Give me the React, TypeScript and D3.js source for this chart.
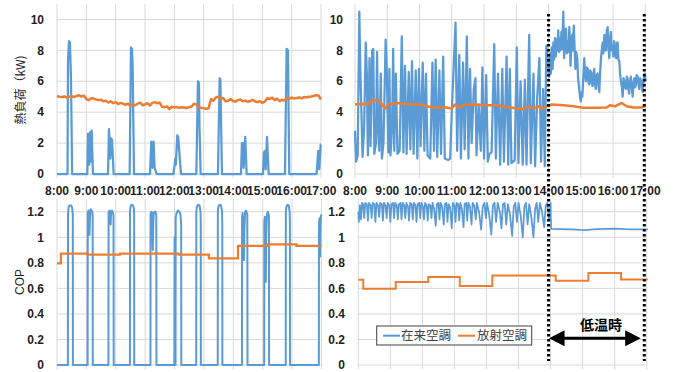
import React from "react";
import * as d3 from "d3";

const hourLabels = ["8:00","9:00","10:00","11:00","12:00","13:00","14:00","15:00","16:00","17:00"];
const loadTicks = [0, 2, 4, 6, 8, 10];
const copTicks = [0, 0.2, 0.4, 0.6, 0.8, 1, 1.2];
const copTickLabels = ["0", "0.2", "0.4", "0.6", "0.8", "1", "1.2"];
const seriesNames = ["在来空調", "放射空調"];

// minutes after 8:00, value
const loadConvLeft: [number, number][] = [
  [0,0],[21.5,0],[22.5,7.3],[24.5,8.6],[26.5,8.5],[28.5,6.3],[31,0],
  [62,0],[63.4,2.6],[66,0.6],[67.5,2.7],[68.8,0.8],[70.9,2.8],[73.6,0],
  [104.3,0],[106.3,2.9],[109,1.0],[111,2.3],[112.5,2.2],[115.9,0],
  [148.6,0],[151.3,8.2],[153.4,8.1],[154.7,7.0],[157.5,0],
  [190.2,0],[192.9,2.1],[194.9,0.4],[197.6,2.1],[199.7,0.4],[203.8,0],
  [238,0],[240.7,0.6],[242,1.0],[243,0.6],[246,2.5],[248,2.4],[250,1.5],[253.6,0],
  [285,0],[288.3,6.0],[290.4,5.9],[291.5,3],[293.8,0],
  [329.2,0],[332.7,6.2],[334.2,6.1],[337.4,0],
  [376.3,0],[378.3,2.0],[380.4,2.0],[381.7,0.4],[385.1,2.4],[387.9,0],
  [421.3,0],[423.3,1.4],[425.4,1.5],[426.8,0.3],[429.5,2.4],[432.9,0],
  [466.3,0],[469.7,8.1],[472.4,8.0],[475.1,0],
  [531,0],[534.4,1.5],[536.5,0.3],[539.3,1.9],[540,1.9],
];

// 5-minute samples from 8:00
const loadRadLeft = [
  5.05,5.0,4.98,5.02,4.95,5.0,5.03,4.98,5.05,5.1,5.0,5.08,4.85,4.78,4.9,4.88,4.82,4.78,4.8,4.7,
  4.75,4.62,4.7,4.58,4.65,4.52,4.6,4.55,4.48,4.55,4.42,4.5,4.45,4.55,4.62,4.45,4.5,4.58,4.42,4.6,
  4.65,4.58,4.62,4.35,4.32,4.38,4.2,4.35,4.3,4.33,4.28,4.32,4.3,4.27,4.33,4.35,4.55,4.5,4.3,4.28,
  4.25,4.22,4.25,4.85,4.75,4.95,5.0,4.85,4.92,4.7,4.75,4.85,4.72,4.68,4.78,4.82,4.7,4.75,4.68,4.72,
  4.8,4.7,4.65,4.72,4.6,4.68,4.9,4.85,4.95,4.78,4.88,4.72,4.8,4.75,4.9,4.85,4.95,4.88,4.92,4.95,
  4.9,4.98,4.95,5.0,5.02,5.05,5.1,5.08,4.82,
];

const loadConvRight: [number, number][] = [
  [0,2.8],[2,0.8],[5,1.2],[8,10.5],[10,6.6],[12,4.0],[14,1.1],[17,3.0],[20,8.5],[22,6.5],[24,1.2],[27,7.5],[29,1.8],
  [32,8.0],[34,8.1],[36,1.3],[39,2.0],[41,7.9],[43,3.0],[45,1.5],[48,6.5],[50,1.0],[53,2.0],[57,8.7],[59,6.9],
  [62,1.4],[64,6.8],[66,1.2],[69,3.0],[71,8.1],[73,1.5],[76,6.5],[79,1.3],[83,1.5],[87,8.9],[90,1.4],[93,7.0],
  [96,1.3],[100,6.6],[103,1.6],[106,7.3],[109,1.3],[113,6.7],[116,1.0],[119,6.8],[122,1.8],[126,7.2],[129,1.5],
  [132,6.5],[135,1.2],[140,1.0],[144,7.2],[147,1.5],[150,7.4],[153,1.1],[157,6.7],[160,1.3],[164,7.6],[167,1.0],
  [173,0.9],[177,1.0],[180,4.0],[187,9.8],[190,1.5],[194,7.7],[197,1.0],[201,7.2],[204,1.6],[208,8.9],[211,1.0],
  [214,6.8],[217,2.0],[221,5.5],[224,6.2],[226,1.2],[230,4.5],[234,1.5],[237,6.9],[240,1.0],[244,6.4],[247,0.8],
  [250,1.3],[254,1.4],[259,8.4],[262,1.0],[266,6.5],[270,0.6],[274,6.8],[277,0.8],[282,7.6],[285,0.6],[288,6.8],
  [291,0.7],[297,0.9],[301,8.2],[304,0.7],[308,6.0],[312,0.6],[316,6.1],[319,0.6],[324,9.0],[327,0.7],[332,6.5],
  [335,0.5],[339,5.0],[343,7.5],[346,0.8],[350,5.5],[353,0.5],[356,8.3],[358,7.5],[361,6.3],
  [363,7.8],[364.5,6.5],[366,8.2],[367.5,6.8],[369,8.5],[370.5,7.4],[372,8.8],[373.5,7.6],[375,8.7],[376.5,8.0],
  [378,9.3],[379.5,7.9],[381,8.8],[382.5,8.0],[384,9.2],[385.5,8.1],[387.5,10.5],[389,7.5],[390.5,8.9],[392.5,9.4],
  [394,7.8],[395.5,8.6],[397,7.9],[398.7,9.5],[400,8.2],[401,7.0],[402.5,8.6],[404,9.0],[405.5,8.0],[407,9.6],
  [408.5,8.1],[410,6.8],[411.5,7.9],[413.5,7.5],[415,6.2],[417,5.5],[418.5,5.0],[420,4.7],[421.5,5.3],[423,5.0],
  [424.5,6.2],[426.5,7.5],[428,6.3],[429.7,6.0],[431,6.9],[433,6.8],[434.5,5.9],[436,5.8],[437.5,6.7],[439,6.6],
  [440.5,5.9],[442,5.7],[443.5,6.5],[445,6.8],[446.5,5.8],[448,5.5],[449.5,6.4],[451.4,6.5],[453,5.7],[454.5,5.3],
  [456,6.6],[457.6,7.5],[459,8.0],[460.7,8.5],[462,7.8],[463.8,9.0],[465,8.0],[467,8.0],[468.5,9.3],[470,9.5],
  [471.5,8.2],[473,7.5],[474.5,8.6],[476,9.2],[477.5,8.0],[479,8.3],[480.5,7.6],[482,8.6],[483.5,7.8],[485.5,7.5],
  [487,8.5],[488.5,8.5],[490,7.4],[491.7,7.3],[493,6.5],[494.8,6.0],[496.5,5.6],[497.9,5.0],[499.5,6.2],[501,6.0],
  [502.5,5.6],[504,5.5],[505.5,6.3],[507,6.2],[508.5,5.5],[510,5.2],[511.5,6.0],[513,6.3],[514.5,5.7],[516.5,5.0],
  [518,5.9],[519.5,6.2],[521,5.6],[522.7,5.8],[524,6.4],[525.8,6.3],[527.5,5.8],[529,5.5],[530.5,6.2],[532,6.0],
  [533.5,5.7],[535,5.3],[537,6.1],[539,6.5],[541,6.0],
];

const loadRadRight: [number, number][] = [
  [0,4.5],[15.5,4.55],[24.8,4.5],[31,4.77],[40.3,4.77],[46.5,4.67],[52.7,4.38],[55.8,4.23],[62,4.5],[77.5,4.6],
  [102.3,4.5],[121,4.5],[133.3,4.38],[145.7,4.3],[170.5,4.3],[179.8,4.23],[186,4.5],[192.2,4.3],[201.5,4.45],
  [214,4.5],[245,4.45],[263.5,4.45],[288.3,4.3],[313,4.19],[322.4,4.38],[331.7,4.23],[341,4.38],[347.2,4.23],
  [356.5,4.38],[365.8,4.5],[387.5,4.45],[406,4.38],[424.7,4.28],[449.5,4.28],[468,4.3],[474.3,4.45],[483.6,4.38],
  [496,4.6],[505.3,4.38],[517.7,4.3],[533.2,4.3],[541,4.45],
];

const copConvLeft: [number, number][] = [
  [0,0],[22.3,0],[22.5,1.18],[23.5,1.23],[25.5,1.25],[29,1.25],[31,1.23],[32.3,1.18],[32.5,0],
  [62.5,0],[62.8,1.19],[64.3,1.21],[65.5,1.15],[66.3,1.02],[67,1.12],[68,1.2],[69,1.22],[70.5,1.21],[72,1.2],[72.8,1.17],[73,0],
  [105,0],[105.3,1.2],[107,1.21],[108.5,1.13],[109.5,1.1],[110.5,1.2],[112,1.21],[113.5,1.2],[115.4,1.17],[115.7,0],
  [148.9,0],[149.1,1.2],[150,1.24],[152,1.255],[155,1.25],[156.8,1.23],[157.5,1.18],[157.7,0],
  [190.8,0],[191,1.18],[192.5,1.2],[194,1.19],[195.6,0.9],[196.5,1.1],[197.5,1.19],[199,1.2],[201,1.2],[202.7,1.17],[203,0],
  [239.5,0],[240,1.0],[240.6,0],[242,0],[242.3,1.15],[244,1.19],[247,1.21],[250,1.2],[252,1.18],[253.5,1.1],[253.8,0],
  [284.2,0],[284.4,1.2],[285.5,1.24],[288,1.255],[291,1.25],[293,1.2],[293.5,1.1],[293.7,0],
  [328.2,0],[328.4,1.2],[329.5,1.24],[332,1.255],[335,1.25],[337,1.2],[337.5,1.1],[337.7,0],
  [377.6,0],[377.8,1.16],[379,1.19],[380.5,1.1],[381.7,0.82],[382.5,1.05],[384,1.2],[386,1.21],[388.5,1.18],[389,0],
  [423,0],[423.2,1.12],[424.5,1.16],[425.5,0.9],[426.3,0.65],[427,1.0],[428.5,1.18],[430.5,1.2],[432.7,1.17],[433,0],
  [467,0],[467.2,1.2],[468.3,1.24],[470.5,1.255],[473,1.25],[475,1.2],[475.5,1.1],[475.7,0],
  [534.6,0],[534.8,1.1],[536,1.15],[537,0.85],[538,1.1],[539,1.17],[540,1.18],
];

const copRadLeftTimes = [0, 8, 62, 128.6, 248, 310, 369.5, 429.7, 489, 540];
const copRadLeftValues = [0.795, 0.873, 0.865, 0.873, 0.865, 0.835, 0.933, 0.945, 0.933, 0.933];

const copConvRight: [number, number][] = [
  [0,1.2],[1,1.12],[3,1.25],[5,1.14],[7,1.27],[9,1.26],[11,1.15],[13,1.27],[16,1.26],[18,1.13],[20,1.27],[23,1.25],
  [25,1.15],[27,1.27],[30,1.26],[32,1.12],[34,1.27],[37,1.25],[39,1.16],[41,1.27],[44,1.26],[46,1.13],[48,1.27],
  [51,1.25],[53,1.15],[55,1.27],[58,1.25],[60,1.12],[62,1.26],[65,1.27],[67,1.15],[69,1.27],[72,1.25],[74,1.14],
  [76,1.26],[79,1.27],[81,1.14],[83,1.27],[86,1.25],[88,1.15],[90,1.27],[93,1.24],[95,1.13],[97,1.27],[100,1.26],
  [102,1.14],[104,1.27],[107,1.25],[109,1.12],[111,1.26],[114,1.27],[116,1.15],[118,1.27],[121,1.24],[123,1.14],
  [125,1.27],[128,1.25],[130,1.13],[132,1.26],[135,1.25],[137,1.15],[139,1.27],[142,1.22],[145,1.09],[147,1.26],
  [150,1.27],[152,1.14],[154,1.27],[157,1.24],[160,1.1],[162,1.26],[165,1.27],[167,1.12],[169,1.26],[172,1.23],
  [175,1.07],[177,1.27],[180,1.25],[182,1.12],[184,1.27],[187,1.26],[189,1.13],[191,1.27],[194,1.22],[197,1.08],
  [199,1.26],[202,1.27],[204,1.13],[206,1.27],[209,1.24],[212,1.1],[214,1.27],[217,1.25],[220,1.14],[222,1.27],
  [226,1.2],[230,1.06],[233,1.24],[236,1.27],[239,1.15],[241,1.27],[245,1.18],[249,1.02],[252,1.25],[255,1.27],
  [258,1.12],[261,1.27],[265,1.2],[268,1.07],[271,1.26],[274,1.27],[277,1.1],[280,1.26],[284,1.18],[288,1.01],
  [291,1.24],[294,1.27],[297,1.12],[300,1.27],[304,1.17],[308,1.0],[311,1.24],[314,1.27],[317,1.1],[320,1.26],
  [324,1.16],[328,1.0],[331,1.22],[334,1.27],[337,1.12],[340,1.27],[344,1.2],[348,1.08],[351,1.25],[354,1.27],
  [357,1.13],[360,1.27],[361,1.066],[380,1.065],[400,1.063],[415,1.058],[425,1.056],[440,1.062],[460,1.066],
  [480,1.068],[500,1.064],[520,1.062],[542,1.062],
];

const copRadRightTimes = [0, 9.4, 70, 131, 190, 251, 369.6, 430.8, 492, 542];
const copRadRightValues = [0.668, 0.598, 0.65, 0.689, 0.619, 0.70, 0.66, 0.72, 0.67, 0.67];

const lowTempStart = 361; // minutes after 8:00
const lowTempEnd = 540;

const BLUE = "#5B9BD5";
const ORANGE = "#ED7D31";
const GRID = "#D9D9D9";
const TXT = "#1f1f1f";
const FONT = "'Liberation Sans', Arial, sans-serif";
const CJK = "'Noto Sans CJK JP', sans-serif";

type P = { x: d3.ScaleLinear<number, number>; y: d3.ScaleLinear<number, number>; ticks: number[]; tickLabels: string[]; labelRight: number; gridTop: number; };

function Grid({ x, y, ticks, tickLabels, labelRight, gridTop }: P) {
  const y0 = y(0);
  return (
    <g>
      {ticks.map((t) => (
        <line key={"h" + t} x1={x(0)} x2={x(540)} y1={y(t)} y2={y(t)} stroke={GRID} strokeWidth={1} />
      ))}
      {hourLabels.map((_, i) => (
        <line key={"v" + i} x1={x(i * 60)} x2={x(i * 60)} y1={gridTop} y2={y0 + 4} stroke={GRID} strokeWidth={1} />
      ))}
      {ticks.map((t, i) => (
        <text key={"l" + t} x={labelRight} y={y(t)} dy="0.35em" textAnchor="end" fontFamily={FONT} fontWeight="bold" fontSize={12} fill={TXT}>
          {tickLabels[i]}
        </text>
      ))}
    </g>
  );
}

function XLabels({ x, yPos }: { x: d3.ScaleLinear<number, number>; yPos: number }) {
  return (
    <g>
      {hourLabels.map((l, i) => (
        <text key={l} x={x(i * 60)} y={yPos} textAnchor="middle" fontFamily={FONT} fontWeight="bold" fontSize={12} fill={TXT}>
          {l}
        </text>
      ))}
    </g>
  );
}

export default function App() {
  const xTL = d3.scaleLinear().domain([0, 540]).range([57, 321]);
  const xTR = d3.scaleLinear().domain([0, 540]).range([355, 645.3]);
  const xBL = d3.scaleLinear().domain([0, 540]).range([57, 321.5]);
  const xBR = d3.scaleLinear().domain([0, 540]).range([358.3, 646.7]);
  const yTop = d3.scaleLinear().domain([0, 11]).range([174, 4]);
  const yBot = d3.scaleLinear().domain([0, 1.3]).range([365, 199]);

  const mk = (x: any, y: any, curve: any = d3.curveLinear) =>
    d3.line<[number, number]>().x((d) => x(d[0])).y((d) => y(d[1])).curve(curve);

  const radLeftPts: [number, number][] = loadRadLeft.map((v, i) => [i * 5, v]);
  const copRadLeftPts: [number, number][] = copRadLeftTimes.map((t, i) => [t, copRadLeftValues[i]]);
  const copRadRightPts: [number, number][] = copRadRightTimes.map((t, i) => [t, copRadRightValues[i]]);

  const dashX1 = xTR(lowTempStart) - 0.5;
  const dashX2 = xTR(lowTempEnd) - 1;
  const arrowY = 338.3;
  const aL = dashX1 + 0.5;
  const aR = 640.7;
  const head = 15.5;

  return (
    <svg width={673} height={372} style={{ position: "absolute", left: 0, top: 0, background: "#fff" }}>
      <rect width={673} height={372} fill="#fff" />
      {/* top-left */}
      <Grid x={xTL} y={yTop} ticks={loadTicks} tickLabels={loadTicks.map(String)} labelRight={44} gridTop={4} />
      <path d={mk(xTL, yTop)(loadConvLeft) || ""} fill="none" stroke={BLUE} strokeWidth={2.25} strokeLinejoin="round" />
      <path d={mk(xTL, yTop)(radLeftPts) || ""} fill="none" stroke={ORANGE} strokeWidth={2.5} strokeLinejoin="round" />
      <XLabels x={xTL} yPos={195} />
      {/* top-right */}
      <Grid x={xTR} y={yTop} ticks={loadTicks} tickLabels={loadTicks.map(String)} labelRight={343} gridTop={4} />
      <path d={mk(xTR, yTop)(loadConvRight) || ""} fill="none" stroke={BLUE} strokeWidth={2.25} strokeLinejoin="round" />
      <path d={mk(xTR, yTop)(loadRadRight) || ""} fill="none" stroke={ORANGE} strokeWidth={2.5} strokeLinejoin="round" />
      <XLabels x={xTR} yPos={195} />
      {/* bottom-left */}
      <Grid x={xBL} y={yBot} ticks={copTicks} tickLabels={copTickLabels} labelRight={44} gridTop={199} />
      <path d={mk(xBL, yBot)(copConvLeft) || ""} fill="none" stroke={BLUE} strokeWidth={2} strokeLinejoin="round" />
      <path d={mk(xBL, yBot, d3.curveStepAfter)(copRadLeftPts) || ""} fill="none" stroke={ORANGE} strokeWidth={2.25} />
      {/* bottom-right */}
      <Grid x={xBR} y={yBot} ticks={copTicks} tickLabels={copTickLabels} labelRight={345} gridTop={199} />
      <path d={mk(xBR, yBot)(copConvRight) || ""} fill="none" stroke={BLUE} strokeWidth={1.75} strokeLinejoin="round" />
      <path d={mk(xBR, yBot, d3.curveStepAfter)(copRadRightPts) || ""} fill="none" stroke={ORANGE} strokeWidth={2} />

      {/* axis titles */}
      <text transform="translate(25,90) rotate(-90)" textAnchor="middle" fontFamily={CJK} fontSize={12} fill={TXT}>
        熱負荷（kW)
      </text>
      <text transform="translate(24,282) rotate(-90)" textAnchor="middle" fontFamily={FONT} fontSize={12} fill={TXT}>
        COP
      </text>

      {/* low temperature markers */}
      <line x1={dashX1} x2={dashX1} y1={14} y2={361} stroke="#000" strokeWidth={3} strokeDasharray="2.6,2.4" />
      <line x1={dashX2} x2={dashX2} y1={14} y2={361} stroke="#000" strokeWidth={3} strokeDasharray="2.6,2.4" />
      <line x1={aL + head - 1} x2={aR - head + 1} y1={arrowY} y2={arrowY} stroke="#000" strokeWidth={3} />
      <path d={`M${aL},${arrowY} L${aL + head},${arrowY - 8} L${aL + head},${arrowY + 8} Z`} fill="#000" />
      <path d={`M${aR},${arrowY} L${aR - head},${arrowY - 8} L${aR - head},${arrowY + 8} Z`} fill="#000" />
      <text x={601} y={330} textAnchor="middle" fontFamily={CJK} fontWeight="bold" fontSize={14} fill="#000">
        低温時
      </text>

      {/* legend */}
      <rect x={376.7} y={326} width={155} height={19} fill="#fff" stroke="#404040" strokeWidth={1} />
      <line x1={383} x2={400} y1={335.7} y2={335.7} stroke={BLUE} strokeWidth={2} />
      <text x={401} y={335.7} dy="0.36em" fontFamily={CJK} fontSize={12.5} fill="#404040">{seriesNames[0]}</text>
      <line x1={458} x2={475} y1={335.7} y2={335.7} stroke={ORANGE} strokeWidth={2} />
      <text x={477} y={335.7} dy="0.36em" fontFamily={CJK} fontSize={12.5} fill="#404040">{seriesNames[1]}</text>
    </svg>
  );
}
